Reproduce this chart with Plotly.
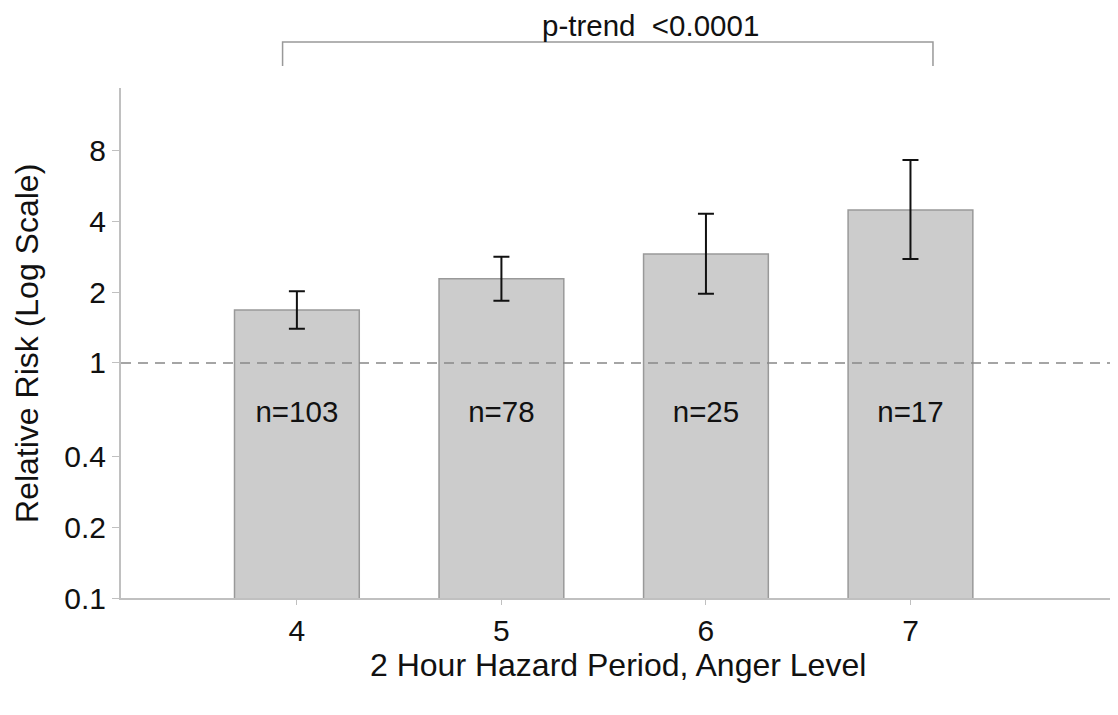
import plotly.graph_objects as go

categories = [4, 5, 6, 7]
rr = [1.68, 2.28, 2.91, 4.48]
ci_upper = [2.02, 2.83, 4.31, 7.31]
ci_lower = [1.40, 1.84, 1.97, 2.77]
n_labels = ["n=103", "n=78", "n=25", "n=17"]
y_tick_vals = [0.1, 0.2, 0.4, 1, 2, 4, 8]
y_tick_text = ["0.1", "0.2", "0.4", "1", "2", "4", "8"]
x_tick_vals = [4, 5, 6, 7, 8]
x_tick_text = ["4", "5", "6", "7", ""]

FONT = "Liberation Sans, Arial, sans-serif"

err_plus = [u - v for u, v in zip(ci_upper, rr)]
err_minus = [v - l for v, l in zip(rr, ci_lower)]

fig = go.Figure()
fig.add_trace(go.Bar(
    x=categories, y=rr, width=0.61,
    marker=dict(color="#cccccc", line=dict(color="#999999", width=1.5)),
    error_y=dict(type="data", symmetric=False, array=err_plus, arrayminus=err_minus,
                 color="#111111", thickness=2, width=8),
    showlegend=False,
))

# n labels inside bars
fig.add_trace(go.Scatter(
    x=categories, y=[0.6] * len(categories), mode="text", text=n_labels,
    textfont=dict(family=FONT, size=29.5, color="#111111"), showlegend=False,
))

# reference line at RR = 1
fig.add_shape(type="line", xref="paper", yref="y", x0=0, x1=1, y0=1, y1=1,
              line=dict(color="#888888", width=1.5, dash="10px,7px"))

# bracket for trend test
bx0, bx1 = categories[0] - 0.07, categories[-1] + 0.11
fig.add_shape(type="path", xref="x", yref="paper",
              path=f"M {bx0},1.043 L {bx0},1.090 L {bx1},1.090 L {bx1},1.043",
              line=dict(color="#999999", width=1.5))
fig.add_annotation(x=5.73, y=1.1235, xref="x", yref="paper", text="p-trend  &lt;0.0001",
                   showarrow=False, font=dict(family=FONT, size=29.5, color="#111111"),
                   xanchor="center", yanchor="middle", borderpad=0)

# axis titles
fig.add_annotation(x=0.5, y=-0.131, xref="paper", yref="paper",
                   text="2 Hour Hazard Period, Anger Level", showarrow=False,
                   font=dict(family=FONT, size=32, color="#111111"),
                   xanchor="center", yanchor="middle")
fig.add_annotation(x=-0.0946, y=0.5, xref="paper", yref="paper",
                   text="Relative Risk (Log Scale)", showarrow=False, textangle=-90,
                   font=dict(family=FONT, size=32, color="#111111"),
                   xanchor="center", yanchor="middle")

fig.update_layout(
    width=1110, height=707,
    margin=dict(l=113, r=3, t=80, b=117),
    paper_bgcolor="white", plot_bgcolor="white",
    font=dict(family=FONT, size=30, color="#111111"),
    xaxis=dict(range=[3.14, 8.0], tickmode="array", tickvals=x_tick_vals, ticktext=x_tick_text,
               showgrid=False, zeroline=False, showline=True, linecolor="#c0c0c0", linewidth=2,
               ticks="outside", ticklen=5, tickcolor="#c0c0c0", tickwidth=1,
               tickfont=dict(family=FONT, size=30, color="#111111")),
    yaxis=dict(type="log", range=[-1, 1.17], tickmode="array", tickvals=y_tick_vals,
               ticktext=y_tick_text, showgrid=False, zeroline=False, showline=True,
               linecolor="#c0c0c0", linewidth=2, ticks="outside", ticklen=7,
               tickcolor="#c0c0c0", tickwidth=1,
               tickfont=dict(family=FONT, size=30, color="#111111")),
)

fig.write_html("out.html")
